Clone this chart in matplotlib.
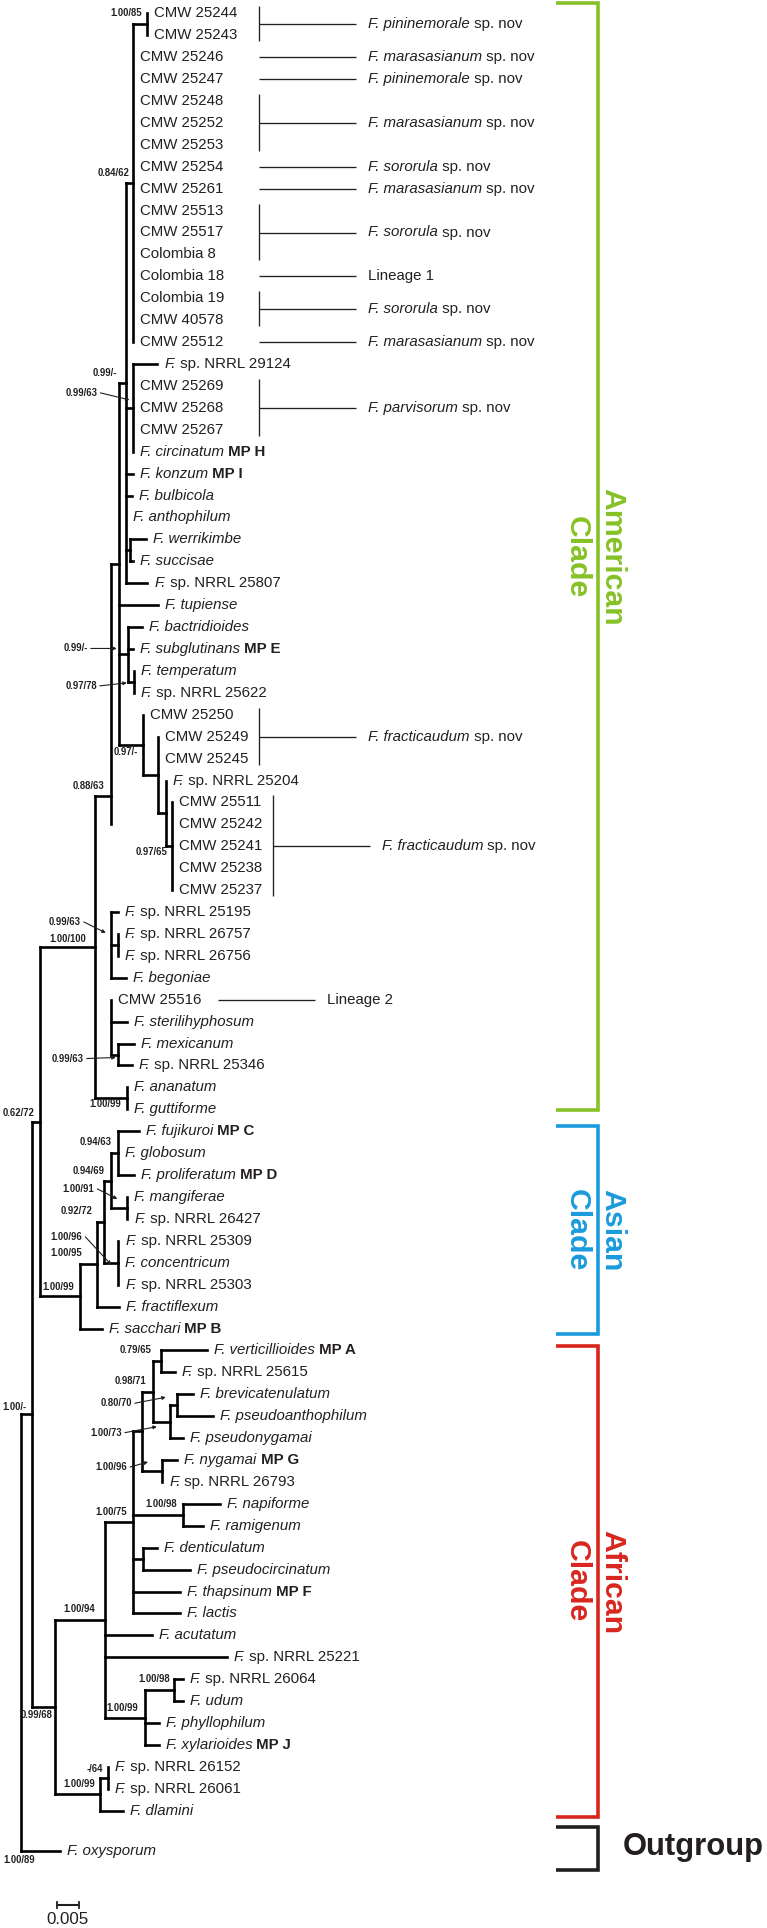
import matplotlib
matplotlib.use("Agg")
import matplotlib.pyplot as plt
from matplotlib import font_manager
from matplotlib.collections import LineCollection

# ----------------------------------------------------------------- data
# leaves, in the order they appear from top to bottom
taxa = [
    "CMW 25244", "CMW 25243", "CMW 25246", "CMW 25247", "CMW 25248", "CMW 25252",
    "CMW 25253", "CMW 25254", "CMW 25261", "CMW 25513", "CMW 25517", "Colombia 8",
    "Colombia 18", "Colombia 19", "CMW 40578", "CMW 25512", "F. sp. NRRL 29124",
    "CMW 25269", "CMW 25268", "CMW 25267", "F. circinatum MP H", "F. konzum MP I",
    "F. bulbicola", "F. anthophilum", "F. werrikimbe", "F. succisae",
    "F. sp. NRRL 25807", "F. tupiense", "F. bactridioides", "F. subglutinans MP E",
    "F. temperatum", "F. sp. NRRL 25622", "CMW 25250", "CMW 25249", "CMW 25245",
    "F. sp. NRRL 25204", "CMW 25511", "CMW 25242", "CMW 25241", "CMW 25238",
    "CMW 25237", "F. sp. NRRL 25195", "F. sp. NRRL 26757", "F. sp. NRRL 26756",
    "F. begoniae", "CMW 25516", "F. sterilihyphosum", "F. mexicanum",
    "F. sp. NRRL 25346", "F. ananatum", "F. guttiforme", "F. fujikuroi MP C",
    "F. globosum", "F. proliferatum MP D", "F. mangiferae", "F. sp. NRRL 26427",
    "F. sp. NRRL 25309", "F. concentricum", "F. sp. NRRL 25303", "F. fractiflexum",
    "F. sacchari MP B", "F. verticillioides MP A", "F. sp. NRRL 25615",
    "F. brevicatenulatum", "F. pseudoanthophilum", "F. pseudonygamai",
    "F. nygamai MP G", "F. sp. NRRL 26793", "F. napiforme", "F. ramigenum",
    "F. denticulatum", "F. pseudocircinatum", "F. thapsinum MP F", "F. lactis",
    "F. acutatum", "F. sp. NRRL 25221", "F. sp. NRRL 26064", "F. udum",
    "F. phyllophilum", "F. xylarioides MP J", "F. sp. NRRL 26152",
    "F. sp. NRRL 26061", "F. dlamini", "F. oxysporum",
]
taxon_parent = [
    "A1", "A1", "A", "A", "A", "A", "A", "A", "A", "A", "A", "A", "A", "A", "A", "A",
    "P", "P", "P", "P", "P", "B", "B", "B", "W", "W", "B", "C", "D", "D", "D2", "D2",
    "E", "E1", "E1", "E2", "E3", "E3", "E3", "E3", "E3", "G", "G1", "G1", "G", "H",
    "H", "H1", "H1", "I", "I", "J1", "J1", "J1", "J2", "J2", "J4", "J4", "J4", "J6",
    "J7", "K1", "K1", "K2", "K2", "K3", "K5", "K5", "N98", "N98", "DP", "DP", "K7",
    "K7", "K8", "K8", "K10", "K10", "K9", "K9", "K12", "K12", "K11", "root",
]
taxon_length = [
    0, 0, 0, 0, 0, 0, 0, 0, 0, 0, 0, 0, 0, 0, 0, 0,
    0.0055, 0, 0, 0, 0, 0.0014, 0.0012, 0, 0.0039, 0.0009, 0.0048, 0.0090,
    0.0032, 0.0012, 0, 0, 0, 0, 0, 0, 0, 0, 0, 0, 0, 0.0016, 0, 0, 0.0035, 0,
    0.0037, 0.0037, 0.0032, 0, 0, 0.0048, 0, 0.0037, 0, 0, 0, 0, 0, 0.0051,
    0.0051, 0.0106, 0.0032, 0.0037, 0.0083, 0.0030, 0.0035, 0, 0.0085, 0.0046,
    0.0032, 0.0108, 0.0108, 0.0108, 0.0108, 0.0281, 0.0021, 0.0021, 0.0032,
    0.0032, 0, 0, 0.0053, 0.0090,
]

# internal nodes (parents listed before children)
clades = ["root", "IG", "N62", "Am", "F", "C", "B", "A", "A1", "P", "W", "D", "D2",
          "E", "E1", "E2", "E3", "G", "G1", "H", "H1", "I", "J7", "J6", "J5", "J3",
          "J1", "J2", "J4", "K13", "K8", "K7", "K6", "K4", "K1", "K3", "K2", "K5",
          "N98", "DP", "K9", "K10", "K11", "K12"]
clade_parent = [None, "root", "IG", "N62", "Am", "F", "C", "B", "A", "B", "B", "C", "D",
                "C", "E", "E1", "E2", "F", "G", "F", "H", "Am", "N62", "J7", "J6", "J5",
                "J3", "J3", "J5", "IG", "K13", "K8", "K7", "K6", "K4", "K4", "K3", "K6",
                "K7", "K7", "K8", "K9", "K13", "K11"]
clade_length = [0, 0.0025, 0.0018, 0.0127, 0.0037, 0.0018, 0.0018, 0.0016, 0.0032,
                0.0016, 0.0007, 0.0021, 0.0014, 0.0055, 0.0035, 0.0018, 0.0016, 0,
                0.0016, 0, 0.0016, 0.0074, 0.0092, 0.0039, 0.0018, 0.0016, 0.0016,
                0.0037, 0.0032, 0.0053, 0.0115, 0.0065, 0.0021, 0.0025, 0.0018,
                0.0039, 0.0016, 0.0046, 0.0115, 0.0023, 0.0092, 0.0067, 0.0104, 0.0018]
clade_support = ["1.00/89", "1.00/-", "0.62/72", "1.00/100", "0.88/63", "", "0.99/-",
                 "0.84/62", "1.00/85", "0.99/63", "", "0.99/-", "0.97/78", "0.97/-", "",
                 "", "0.97/65", "", "0.99/63", "", "0.99/63", "1.00/99", "1.00/99",
                 "1.00/95", "0.92/72", "0.94/69", "0.94/63", "1.00/91", "1.00/96",
                 "0.99/68", "1.00/94", "1.00/75", "", "0.98/71", "0.79/65", "1.00/73",
                 "0.80/70", "1.00/96", "1.00/98", "", "1.00/99", "1.00/98", "1.00/99",
                 "-/64"]

# species assignments of the new isolates
group_labels = ["F. pininemorale sp. nov", "F. marasasianum sp. nov",
                "F. pininemorale sp. nov", "F. marasasianum sp. nov",
                "F. sororula sp. nov", "F. marasasianum sp. nov", "F. sororula sp. nov",
                "Lineage 1", "F. sororula sp. nov", "F. marasasianum sp. nov",
                "F. parvisorum sp. nov", "F. fracticaudum sp. nov",
                "F. fracticaudum sp. nov", "Lineage 2"]
group_first = ["CMW 25244", "CMW 25246", "CMW 25247", "CMW 25248", "CMW 25254",
               "CMW 25261", "CMW 25513", "Colombia 18", "Colombia 19", "CMW 25512",
               "CMW 25269", "CMW 25250", "CMW 25511", "CMW 25516"]
group_last = ["CMW 25243", "CMW 25246", "CMW 25247", "CMW 25253", "CMW 25254",
              "CMW 25261", "Colombia 8", "Colombia 18", "CMW 40578", "CMW 25512",
              "CMW 25267", "CMW 25245", "CMW 25237", "CMW 25516"]

# major clades
bracket_words = [("American", "Clade"), ("Asian", "Clade"), ("African", "Clade"),
                 ("Outgroup", "")]
bracket_first = ["CMW 25244", "F. fujikuroi MP C", "F. verticillioides MP A",
                 "F. oxysporum"]
bracket_last = ["F. guttiforme", "F. sacchari MP B", "F. dlamini", "F. oxysporum"]
bracket_colors = ["#86C226", "#1A9BDC", "#D8261E", "#231F20"]

scale_bar_value = 0.005

# ----------------------------------------------------------------- layout
W, H, DPI = 767, 1928, 100
ROOT_PX = 21.0           # pixel position of the root
PX_PER_UNIT = 4340.0     # pixels per substitution/site
ROW_PX = 21.92           # pixels between leaves
ROW1_PX = 13.3           # pixel row of the first leaf
OUTGROUP_GAP = 0.85      # extra rows before the outgroup
INK = "#231F20"
TREE_LW = 1.9
LEAF_FS = 10.8
SUP_FS = 6.85

avail = {f.name for f in font_manager.fontManager.ttflist}
plt.rcParams["font.family"] = ["Liberation Sans", "DejaVu Sans"]
NARROW = "Liberation Sans Narrow" in avail

fig = plt.figure(figsize=(W / DPI, H / DPI), dpi=DPI)
ax = fig.add_axes([0, 0, 1, 1])
ax.axis("off")
ax.set_xlim(-ROOT_PX / PX_PER_UNIT, (W - ROOT_PX) / PX_PER_UNIT)
ax.set_ylim(1 + (H - ROW1_PX) / ROW_PX, 1 - ROW1_PX / ROW_PX)
renderer = fig.canvas.get_renderer()


def hx(px):            # horizontal pixel distance -> data
    return px / PX_PER_UNIT


def vy(px):            # vertical pixel distance -> rows
    return px / ROW_PX


def X(px):             # absolute pixel -> data x
    return (px - ROOT_PX) / PX_PER_UNIT


# ----------------------------------------------------------------- positions
clade_x = {}
for name, par, ln in zip(clades, clade_parent, clade_length):
    clade_x[name] = 0.0 if par is None else clade_x[par] + ln
leaf_x = [clade_x[p] + l for p, l in zip(taxon_parent, taxon_length)]
leaf_y = [float(i + 1) for i in range(len(taxa))]
leaf_y[-1] += OUTGROUP_GAP
row_of = {t: y for t, y in zip(taxa, leaf_y)}

kids = {c: [] for c in clades}   # (x, y) of children, filled bottom-up
for t, p, x, y in zip(taxa, taxon_parent, leaf_x, leaf_y):
    kids[p].append((x, y))
clade_y = {}
for name, par in reversed(list(zip(clades, clade_parent))):
    ys = [c[1] for c in kids[name]]
    clade_y[name] = (min(ys) + max(ys)) / 2
    if par is not None:
        kids[par].append((clade_x[name], clade_y[name]))

VERTICAL_CUT = {"F": vy(28)}   # the drawn vertical of node F stops short

segs = []
for name in clades:
    cx = clade_x[name]
    ys = [c[1] for c in kids[name]]
    y0, y1 = min(ys), max(ys)
    if name in VERTICAL_CUT:
        y1 = clade_y[name] + VERTICAL_CUT[name]
    segs.append([(cx, y0), (cx, y1)])
    for (kx, ky) in kids[name]:
        if kx > cx + 1e-9:
            segs.append([(cx, ky), (kx, ky)])
ax.add_collection(LineCollection(segs, colors="black", linewidths=TREE_LW,
                                 capstyle="projecting"))


# ----------------------------------------------------------------- rich text
def split_label(name):
    if name.startswith("F. sp."):
        return [("F.", "i"), (name[2:], "n")]
    if name.startswith("F. "):
        words = name.split(" ")
        out = [(" ".join(words[:2]), "i")]
        rest = words[2:]
        if rest:
            out.append((" " + " ".join(rest), "b" if rest[0] == "MP" else "n"))
        return out
    return [(name, "n")]


def rich(x, y, name, dx_px, fs=LEAF_FS, color=INK):
    off = dx_px
    for s, st in split_label(name):
        t = ax.annotate(s, xy=(x, y), xytext=(off, 0), textcoords="offset pixels",
                        ha="left", va="center", fontsize=fs, color=color,
                        fontstyle="italic" if st == "i" else "normal",
                        fontweight="bold" if st == "b" else "normal",
                        annotation_clip=False)
        off += t.get_window_extent(renderer).width


for name, x, y in zip(taxa, leaf_x, leaf_y):
    rich(x, y, name, 7)

# ----------------------------------------------------------------- supports
SUPPORT_POS = {
    "IG": (-5, -7), "N62": (-5, -9), "Am": (-9, -8), "F": (-6, -10), "B": (-9, -10),
    "A": (-4, -10), "A1": (-5, -11), "E": (-5, 7), "E3": (-5, 6), "I": (-6, 6),
    "J7": (-5, -9), "J6": (-14, -11), "J5": (-12, -11), "J3": (-7, -10),
    "J1": (-7, -11), "K13": (-2, 8), "K8": (-10, -11), "K7": (-6, -10),
    "K4": (-7, -11), "K1": (-9, -11), "N98": (-6, -11), "K9": (-7, -10),
    "K10": (-4, -11), "K11": (-5, -10), "K12": (-5, -9),
}
SUPPORT_ARROW = {   # text right edge dx, dy ; arrow tip dx, dy
    "P": (-36, -15, -4, -8), "D": (-40, -6, -11, -6), "D2": (-37, 4, -7, 1),
    "G1": (-37, -23, -12, -12), "H1": (-34, 4, -2, 3), "J2": (-33, -19, -10, -9),
    "J4": (-36, -26, -7, 2), "K2": (-45, -2, -11, -8), "K3": (-48, 11, -13, 5),
    "K5": (-35, -4, -14, -9),
}
sup_kw = dict(fontsize=SUP_FS, fontweight="bold", color=INK, va="center")
for name, sup in zip(clades, clade_support):
    if not sup:
        continue
    cx, cy = clade_x[name], clade_y[name]
    if name == "root":
        ax.text(cx - hx(2), max(k[1] for k in kids[name]) + vy(9), sup, ha="center",
                **sup_kw)
    elif name in SUPPORT_ARROW:
        tdx, tdy, adx, ady = SUPPORT_ARROW[name]
        ax.text(cx + hx(tdx), cy + vy(tdy), sup, ha="right", **sup_kw)
        ax.annotate("", xy=(cx + hx(adx), cy + vy(ady)),
                    xytext=(cx + hx(tdx + 3), cy + vy(tdy)),
                    arrowprops=dict(arrowstyle="-|>", color=INK, lw=0.8,
                                    mutation_scale=5, shrinkA=0, shrinkB=0))
    else:
        dx, dy = SUPPORT_POS[name]
        ax.text(cx + hx(dx), cy + vy(dy), sup, ha="right", **sup_kw)

# ----------------------------------------------------------------- species groups
GROUP_X = {"CMW 25511": 273, "CMW 25516": 218}
for lab, f, l in zip(group_labels, group_first, group_last):
    x0 = GROUP_X.get(f, 259)
    y0, y1 = row_of[f], row_of[l]
    ym = (y0 + y1) / 2
    if l != f:
        ax.plot([X(x0), X(x0)], [y0 - vy(7), y1 + vy(6)], color=INK, lw=0.95,
                solid_capstyle="butt")
    ax.plot([X(x0), X(x0 + 97)], [ym, ym], color=INK, lw=0.95, solid_capstyle="butt")
    rich(X(x0 + 97), ym, lab, 12)

# ----------------------------------------------------------------- clade brackets
BR_PAD = [(-10, 1), (-5, 5), (-4, 6), (-24, 19)]
BR_X0, BR_X1 = 556, 598
for (w1, w2), f, l, col, (pt, pb) in zip(bracket_words, bracket_first, bracket_last,
                                         bracket_colors, BR_PAD):
    yt, yb = row_of[f] + vy(pt), row_of[l] + vy(pb)
    ax.plot([X(BR_X0), X(BR_X1), X(BR_X1), X(BR_X0)], [yt, yt, yb, yb], color=col,
            lw=2.6, solid_joinstyle="miter", solid_capstyle="butt")
    ym = (yt + yb) / 2
    if w2:
        if NARROW:
            kw = dict(family=["Liberation Sans Narrow", "Liberation Sans"],
                      fontsize=26.6)
        else:
            kw = dict(family=["Liberation Sans", "DejaVu Sans"], fontsize=21.8)
        ax.text(X(612), ym, w1, rotation=-90, ha="center", va="center", color=col,
                fontweight="bold", **kw)
        ax.text(X(577), ym, w2, rotation=-90, ha="center", va="center", color=col,
                fontweight="bold", **kw)
    else:
        ax.text(X(623), row_of[f] - vy(4), w1, ha="left", va="center", color=col,
                fontweight="bold", fontsize=22.3)

# ----------------------------------------------------------------- scale bar
sb_x0 = X(57)
sb_y = 1 + (1905 - ROW1_PX) / ROW_PX
ax.plot([sb_x0, sb_x0 + scale_bar_value], [sb_y, sb_y], color=INK, lw=1.5,
        solid_capstyle="butt")
for xx in (sb_x0, sb_x0 + scale_bar_value):
    ax.plot([xx, xx], [sb_y - vy(3), sb_y + vy(3)], color=INK, lw=1.3)
ax.text(sb_x0 + scale_bar_value / 2, sb_y + vy(15), f"{scale_bar_value:.3f}",
        ha="center", va="center", fontsize=12.2, color=INK)

fig.savefig("out.png", dpi=DPI)
